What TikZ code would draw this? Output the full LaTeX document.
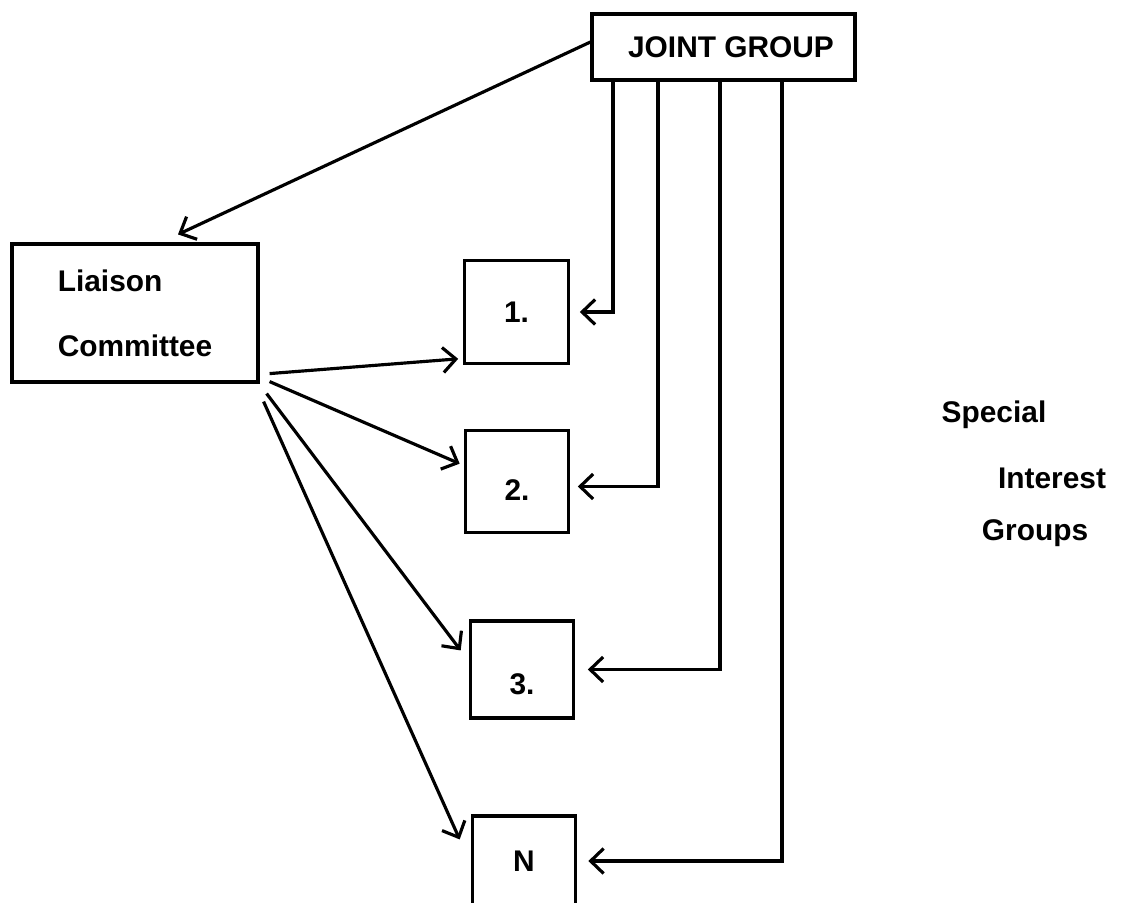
\documentclass[tikz,border=0pt]{standalone}
\usepackage{fontspec}
\setsansfont{Liberation Sans}
\usetikzlibrary{arrows.meta,calc}

\begin{document}
\begin{tikzpicture}[font=\sffamily\bfseries\fontsize{17}{20}\selectfont,
  line width=1.8pt,
  boxed/.style={draw,rectangle,inner sep=0pt},
  sq/.style={boxed,minimum width=2.07cm,minimum height=2.05cm},
  arw/.style={-{Straight Barb[length=2.6mm,width=5mm]}}]
  \useasboundingbox (0,0) rectangle (22.58,-18.04);
  \node[boxed,minimum width=5.26cm,minimum height=1.32cm] (jg) at (14.47,-0.94) {\hspace{0.3cm}JOINT GROUP};
  \node[boxed,minimum width=4.92cm,minimum height=2.76cm,align=left] (lc) at (2.70,-6.26) {Liaison\\[17pt]Committee};
  \node[sq] (b1) at (10.33,-6.24) {1.};
  \node[sq] (b2) at (10.34,-9.63) {\raisebox{-0.18cm}[\height][0pt]{2.}};
  \node[sq,minimum height=1.94cm] (b3) at (10.44,-13.39) {\raisebox{-0.3cm}[\height][0pt]{3.}};
  \node[sq,minimum height=1.8cm] (bn) at (10.48,-17.22) {N};
  \node (sp1) at (19.88,-8.30) {Special};
  \node (sp2) at (21.04,-9.56) {Interest};
  \node (sp3) at (20.70,-10.66) {Groups};
  % down from the joint group
  \coordinate (g1) at (12.26,-1.6); \coordinate (g2) at (13.16,-1.6);
  \coordinate (g3) at (14.40,-1.6); \coordinate (g4) at (15.64,-1.6);
  \draw[arw] ([yshift=0.1cm]jg.west) -- ([xshift=0.86cm,yshift=0.16cm]lc.north);
  \draw[arw,shorten >=0.2cm] (jg.south -| g1) |- (b1.east);
  \draw[arw,shorten >=0.15cm] (jg.south -| g2) |- ([yshift=-0.1cm]b2.east);
  \draw[arw,shorten >=0.25cm] (jg.south -| g3) |- (b3.east);
  \draw[arw,shorten >=0.22cm] (jg.south -| g4) |- (bn.east);
  % out of the liaison committee
  \draw[arw] ([xshift=0.2cm,yshift=0.2cm]lc.south east) -- ($(b1.south west)+(-0.1,0.12)$);
  \draw[arw] ([xshift=0.2cm,yshift=0.04cm]lc.south east) -- ($(b2.north west)+(-0.08,-0.7)$);
  \draw[arw] ([xshift=0.14cm,yshift=-0.2cm]lc.south east) -- ($(b3.north west)+(-0.16,-0.62)$);
  \draw[arw] ([xshift=0.08cm,yshift=-0.36cm]lc.south east) -- ($(bn.north west)+(-0.22,-0.5)$);
\end{tikzpicture}
\end{document}
